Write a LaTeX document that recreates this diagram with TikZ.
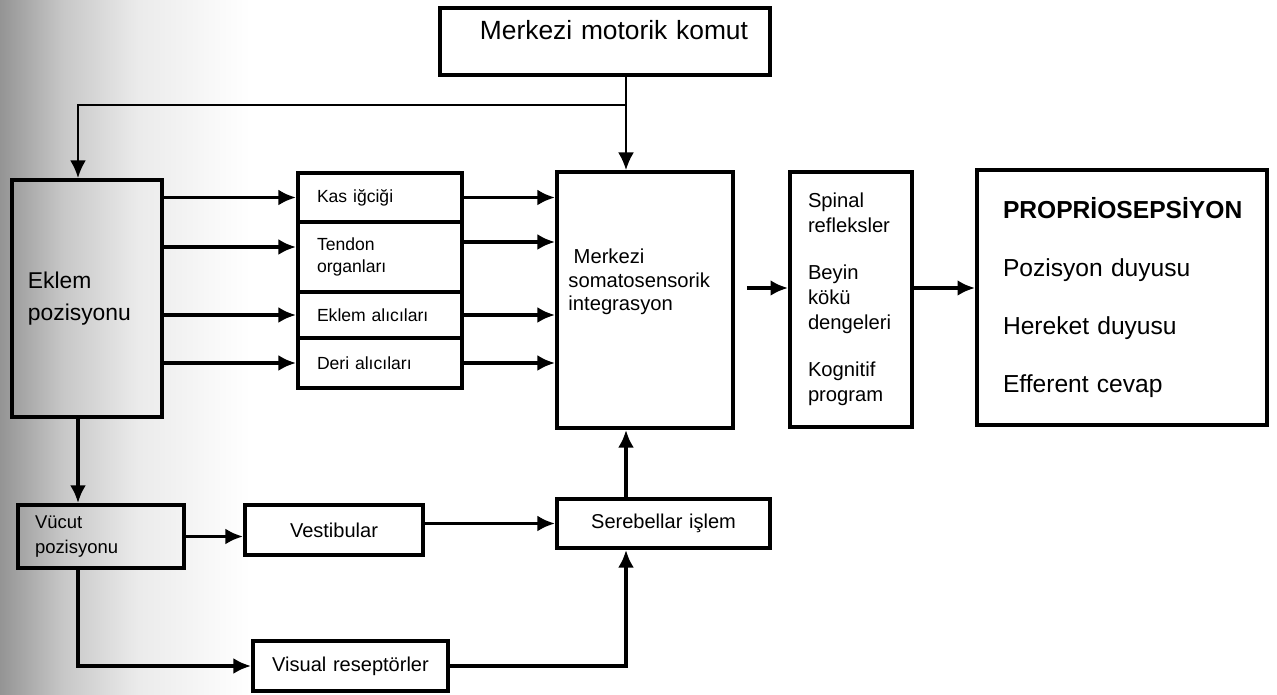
\documentclass[tikz,border=0pt]{standalone}
\usepackage{fontspec}
\setmainfont{Liberation Sans}
\usetikzlibrary{arrows.meta}
\pgfdeclarehorizontalshading{scanfade}{100bp}{color(0bp)=(black!42); color(25bp)=(black!42); color(37.5bp)=(black!22); color(52.5bp)=(black!8); color(75bp)=(white); color(100bp)=(white)}
\newcommand{\fsize}[2]{\fontsize{#1}{#2}\selectfont}
\newcommand{\boxNode}[7][]{
	\path (#2,#3) node[draw, line width=2.2pt, minimum width=#4cm, minimum height=#5cm, inner xsep=0pt, align=left, #1](#6){#7};
}
\newcommand{\arrowLink}[3][]{
	\draw[flow, #1] (#2) -- (#3);
}

\begin{document}
\begin{tikzpicture}[flow/.style={line width=2pt, -{Latex[length=10pt,width=9pt]}}]
	\useasboundingbox (0,0) rectangle (25.54,13.88);
	\shade[shading=scanfade] (0,0) rectangle (5.0,13.88);

	\boxNode[text width=5.72cm, align=right, text depth=0.45cm, font=\fsize{15}{18}]{12.10}{13.05}{6.6}{1.34}{motor}{Merkezi motorik komut};
	\boxNode[text width=2.36cm, font=\fsize{13}{18}]{1.74}{7.91}{3.0}{4.74}{eklem}{Eklem\\pozisyonu};
	\boxNode[text width=2.52cm, font=\fsize{10}{12}]{7.60}{9.93}{3.28}{0.98}{kas}{Kas iğciği};
	\boxNode[text width=2.52cm, font=\fsize{10}{12}]{7.60}{8.74}{3.28}{1.40}{tendon}{Tendon\\organları};
	\boxNode[text width=2.52cm, font=\fsize{10}{12}]{7.60}{7.58}{3.28}{0.92}{alici}{Eklem alıcıları};
	\boxNode[text width=2.52cm, font=\fsize{10}{12}]{7.60}{6.62}{3.28}{1.00}{deri}{Deri alıcıları};
	\boxNode{12.90}{7.88}{3.52}{5.12}{msi}{};
	\path ([xshift=0.26cm, yshift=0.36cm]msi.west) node[anchor=west, align=left, inner sep=0pt, font=\fsize{11.5}{13.4}](msitext){\hspace*{3pt}Merkezi\\somatosensorik\\integrasyon};
	\boxNode[text width=1.72cm, font=\fsize{11.5}{14.2}]{17.02}{7.89}{2.44}{5.10}{spinal}{Spinal\\refleksler\\[12.5pt]Beyin\\kökü\\dengeleri\\[12.5pt]Kognitif\\program};
	\boxNode[text width=4.76cm, font=\fsize{14}{33}]{22.44}{7.93}{5.80}{5.10}{prop}{\textbf{PROPRİOSEPSİYON}\\Pozisyon duyusu\\Hereket duyusu\\Efferent cevap};
	\boxNode[text width=2.64cm, font=\fsize{10.5}{14.2}]{2.02}{3.15}{3.32}{1.26}{vucut}{Vücut\\pozisyonu};
	\boxNode[text width=3.56cm, align=center, font=\fsize{11.4}{14}]{6.68}{3.28}{3.56}{1.00}{vest}{Vestibular};
	\boxNode[text width=3.90cm, align=center, font=\fsize{11.4}{14}]{7.01}{0.56}{3.90}{1.00}{visual}{Visual reseptörler};
	\boxNode[text width=4.26cm, align=center, font=\fsize{11.4}{14}]{13.27}{3.41}{4.26}{0.98}{sereb}{Serebellar işlem};

	\coordinate (split) at (12.52,11.78);
	\coordinate (corner) at (1.56,11.78);
	\coordinate (tin) at ([yshift=0.2cm]tendon.west);
	\coordinate (tout) at ([yshift=0.3cm]tendon.east);
	\coordinate (mout) at ([xshift=0.24cm, yshift=0.24cm]msi.east);

	\arrowLink[line width=1.3pt]{split |- motor.south}{split |- msi.north};
	\draw[flow, line width=1.5pt] (split) -- (corner) -- (corner |- eklem.north);

	\arrowLink{eklem.east |- kas.west}{kas.west};
	\arrowLink{eklem.east |- tin}{tin};
	\arrowLink{eklem.east |- alici.west}{alici.west};
	\arrowLink{eklem.east |- deri.west}{deri.west};

	\arrowLink{kas.east}{kas.east -| msi.west};
	\arrowLink{tout}{tout -| msi.west};
	\arrowLink{alici.east}{alici.east -| msi.west};
	\arrowLink{deri.east}{deri.east -| msi.west};

	\arrowLink{mout}{mout -| spinal.west};
	\arrowLink{mout -| spinal.east}{mout -| prop.west};

	\arrowLink{corner |- eklem.south}{corner |- vucut.north};
	\arrowLink{vucut.east}{vucut.east -| vest.west};
	\draw[flow] (corner |- vucut.south) |- (visual.west);
	\arrowLink{sereb.west -| vest.east}{sereb.west};
	\arrowLink{split |- sereb.north}{split |- msi.south};
	\draw[flow] (visual.east) -| (split |- sereb.south);
\end{tikzpicture}
\end{document}
